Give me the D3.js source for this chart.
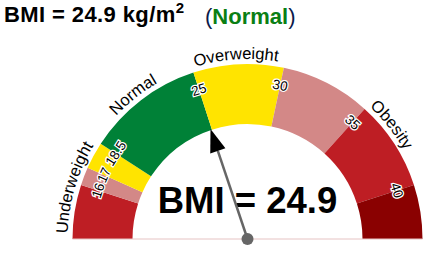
<!DOCTYPE html>
<html>
<head>
<meta charset="utf-8">
<script src="https://cdn.jsdelivr.net/npm/d3@7"></script>
<style>
    body { margin: 0; background: #fff; }
    svg { display: block; font-family: "Liberation Sans", Arial, sans-serif; }
</style>
</head>
<body>
<div id="gauge"></div>
<script>
// chart data
let bmiValue = 24.9;
let scaleMin = 13, scaleMax = 43;
let bounds = [13, 16, 17, 18.5, 25, 30, 35, 40, 43];
let segColors = ["#be1e24", "#d38887", "#ffe400", "#008137", "#ffe400", "#d38887", "#be1e24", "#8a0101"];
let tickValues = [16, 17, 18.5, 25, 30, 35, 40];
let categories = ["Underweight", "Normal", "Overweight", "Obesity"];
let categoryCenters = [15.75, 21.6, 27.4, 36.6];

let width = 441, height = 253;
let cx = 247.5, cy = 239;
let outerR = 175, innerR = 115;

let svg = d3.select("#gauge").append("svg")
    .attr("width", width)
    .attr("height", height);

// BMI -> angle (radians, 0 at top, clockwise like d3.arc)
let angle = d3.scaleLinear()
    .domain([scaleMin, scaleMax])
    .range([-Math.PI / 2, Math.PI / 2]);

let g = svg.append("g").attr("transform", "translate(" + cx + "," + cy + ")");

let arc = d3.arc()
    .innerRadius(innerR)
    .outerRadius(outerR);

let segs = d3.range(segColors.length).map(i => ({from: bounds[i], to: bounds[i + 1], color: segColors[i]}));

g.selectAll("path.seg")
    .data(segs)
    .enter().append("path")
    .attr("class", "seg")
    .attr("d", d => arc({startAngle: angle(d.from), endAngle: angle(d.to)}))
    .attr("fill", d => d.color);

// thin base line
g.append("line")
    .attr("x1", -outerR).attr("x2", outerR)
    .attr("y1", 0).attr("y2", 0)
    .attr("stroke", "#e6c3c3")
    .attr("stroke-width", 1);

// tick labels along the boundaries
let tickR = 157;
g.selectAll("text.tick")
    .data(tickValues)
    .enter().append("text")
    .attr("class", "tick")
    .attr("transform", function (d) {
        let a = angle(d);
        let x = tickR * Math.sin(a), y = -tickR * Math.cos(a);
        return "translate(" + x + "," + y + ") rotate(" + (a * 180 / Math.PI) + ")";
    })
    .attr("text-anchor", "middle")
    .attr("dominant-baseline", "central")
    .attr("font-size", 13.5)
    .attr("fill", "#000")
    .attr("stroke", "#fff")
    .attr("stroke-width", 2.5)
    .attr("paint-order", "stroke")
    .text(d => d);

// category labels on a curved path outside the ring
let labelR = 180;
svg.append("defs").append("path")
    .attr("id", "labelArc")
    .attr("d", "M" + (cx - labelR) + "," + cy + " A" + labelR + "," + labelR + " 0 0 1 " + (cx + labelR) + "," + cy);

let labelPos = d3.scaleLinear().domain([scaleMin, scaleMax]).range([0, 100]);

svg.selectAll("text.cat")
    .data(categories)
    .enter().append("text")
    .attr("class", "cat")
    .attr("font-size", 16.5)
    .attr("fill", "#000")
    .append("textPath")
    .attr("href", "#labelArc")
    .attr("startOffset", (d, i) => labelPos(categoryCenters[i]) + "%")
    .attr("text-anchor", "middle")
    .text(d => d);

// big value text
g.append("text")
    .attr("x", 0)
    .attr("y", -26)
    .attr("text-anchor", "middle")
    .attr("font-size", 36.5)
    .attr("font-weight", "bold")
    .attr("fill", "#000")
    .text("BMI = " + bmiValue);

// needle
let na = angle(bmiValue);
let tipR = innerR + 1, headLen = 23, headHalf = 8;
let ux = Math.sin(na), uy = -Math.cos(na);
let baseR = tipR - headLen;
g.append("line")
    .attr("x1", 0).attr("y1", 0)
    .attr("x2", baseR * ux).attr("y2", baseR * uy)
    .attr("stroke", "#666")
    .attr("stroke-width", 2.5);
g.append("path")
    .attr("d", "M" + (tipR * ux) + "," + (tipR * uy) +
        " L" + (baseR * ux - headHalf * uy) + "," + (baseR * uy + headHalf * ux) +
        " L" + (baseR * ux + headHalf * uy) + "," + (baseR * uy - headHalf * ux) + " Z")
    .attr("fill", "#000");
g.append("circle")
    .attr("r", 6)
    .attr("fill", "#666");

// title
let title = svg.append("text")
    .attr("x", 4)
    .attr("y", 22)
    .attr("font-size", 22)
    .attr("font-weight", "bold")
    .attr("letter-spacing", 0.4)
    .attr("fill", "#000");
title.append("tspan").text("BMI = " + bmiValue + " kg/m");
title.append("tspan").attr("font-size", 15).attr("dy", -9).attr("letter-spacing", 0).text("2");

let status = svg.append("text")
    .attr("x", 205)
    .attr("y", 24)
    .attr("font-size", 22)
    .attr("fill", "#0b1a4a");
status.append("tspan").text("(");
status.append("tspan").attr("font-weight", "bold").attr("fill", "#0a7f14").text("Normal");
status.append("tspan").text(")");
</script>
</body>
</html>
